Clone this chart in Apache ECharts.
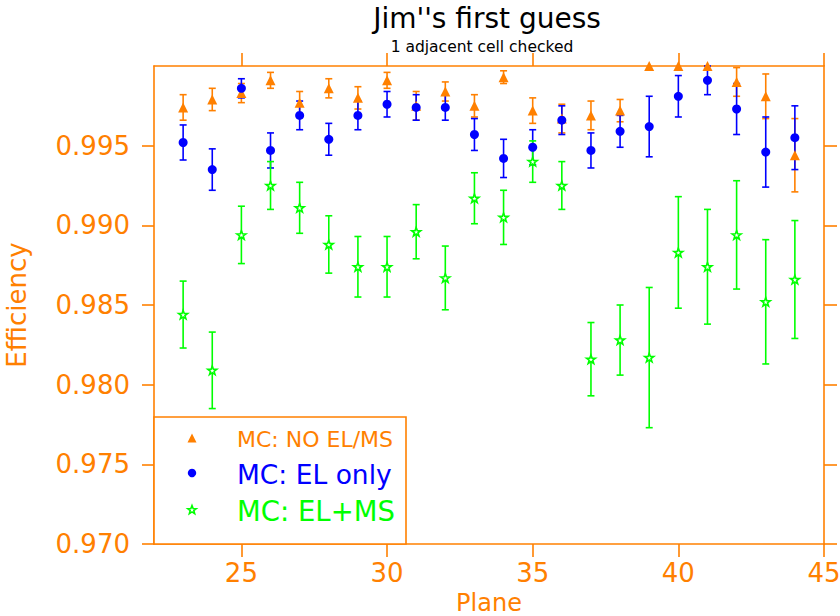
<!DOCTYPE html>
<html>
<head>
<meta charset="utf-8">
<script src="https://cdn.jsdelivr.net/npm/echarts@6/dist/echarts.min.js"></script>
<style>
html,body{margin:0;padding:0;background:#fff;}
#chart{width:840px;height:616px;}
</style>
</head>
<body>
<div id="chart"></div>
<script>
// ---- data ----
var planes = [23,24,25,26,27,28,29,30,31,32,33,34,35,36,37,38,39,40,41,42,43,44];
var noElMs    = [0.9974,0.9979,0.9983,0.9991,0.9977,0.9986,0.9980,0.9991,0.9975,0.9984,0.9975,0.9993,0.9972,0.9967,0.9969,0.9972,1.0000,1.0000,1.0000,0.9990,0.9981,0.9944];
var noElMsErr = [0.0008,0.0007,0.0006,0.0005,0.0007,0.0006,0.0007,0.0005,0.0009,0.0006,0.0007,0.0004,0.0008,0.0009,0.0009,0.0007,0,0,0,0.0009,0.0014,0.0023];
var elOnly    = [0.9952,0.9935,0.9986,0.9947,0.9969,0.9954,0.9969,0.9976,0.9974,0.9974,0.9957,0.9942,0.9949,0.9966,0.9947,0.9959,0.9962,0.9981,0.9991,0.9973,0.9946,0.9955];
var elOnlyErr = [0.0011,0.0013,0.0006,0.0011,0.0009,0.0010,0.0009,0.0008,0.0008,0.0008,0.0010,0.0012,0.0011,0.0009,0.0011,0.0010,0.0019,0.0013,0.0009,0.0016,0.0022,0.0020];
var elMs      = [0.9844,0.9809,0.9894,0.9925,0.9911,0.9888,0.9874,0.9874,0.9896,0.9867,0.9917,0.9905,0.9940,0.9925,0.9816,0.9828,0.9817,0.9883,0.9874,0.9894,0.9852,0.9866];
var elMsErr   = [0.0021,0.0024,0.0018,0.0015,0.0016,0.0018,0.0019,0.0019,0.0017,0.0020,0.0016,0.0017,0.0013,0.0015,0.0023,0.0022,0.0044,0.0035,0.0036,0.0034,0.0039,0.0037];
var xTicks = [25,30,35,40,45];
var yTicks = [0.970,0.975,0.980,0.985,0.990,0.995];
var seriesNames = ['MC: NO EL/MS','MC: EL only','MC: EL+MS'];
var titleText = "Jim''s first guess";
var subtitleText = '1 adjacent cell checked';
var xName = 'Plane';
var yName = 'Efficiency';

// ---- style ----
var ORANGE = '#ff8000', BLUE = '#0000ff', GREEN = '#00ff00';
var FONT = 'DejaVu Sans';
var STAR = 'path://M0,-10L2.35,-3.24L9.51,-3.09L3.8,1.24L5.88,8.09L0,4L-5.88,8.09L-3.8,1.24L-9.51,-3.09L-2.35,-3.24Z';

function pts(vals){ return planes.map(function(p,i){ return [p, vals[i]]; }); }
function bars(vals, errs){ return planes.map(function(p,i){ return [p, vals[i]-errs[i], vals[i]+errs[i]]; }); }
function errSeries(vals, errs, color){
  return {
    type:'custom', clip:false, silent:true,
    data: bars(vals, errs),
    renderItem: function(params, api){
      var x = api.value(0), lo = api.value(1), hi = api.value(2);
      if (hi - lo <= 0) return null;
      var a = api.coord([x, hi]), b = api.coord([x, lo]);
      var w = 3.5, st = {stroke: color, lineWidth: 1.6};
      return {type:'group', children:[
        {type:'line', shape:{x1:a[0],y1:a[1],x2:b[0],y2:b[1]}, style:st},
        {type:'line', shape:{x1:a[0]-w,y1:a[1],x2:a[0]+w,y2:a[1]}, style:st},
        {type:'line', shape:{x1:b[0]-w,y1:b[1],x2:b[0]+w,y2:b[1]}, style:st}
      ]};
    }
  };
}

function axisCommon(){
  return {
    axisLine:{show:true, onZero:false, lineStyle:{color:ORANGE, width:1.6}},
    splitLine:{show:false}
  };
}

// legend star polygon (icon only)
function starPoly(cx, cy, r){
  var p = [];
  for (var k=0;k<10;k++){
    var ang = -Math.PI/2 + k*Math.PI/5;
    var rr = (k%2===0) ? r : r*0.42;
    p.push([cx + rr*Math.cos(ang), cy + rr*Math.sin(ang)]);
  }
  return p;
}

var chart = echarts.init(document.getElementById('chart'), null, {renderer:'svg'});
var option = {
  animation:false,
  backgroundColor:'#fff',
  grid:{left:154, right:16, top:66, bottom:72, containLabel:false, outerBoundsMode:'none'},
  xAxis:[
    Object.assign(axisCommon(), {
      type:'value', min:22, max:45, position:'bottom',
      axisTick:{show:true, length:13, customValues:xTicks, lineStyle:{color:ORANGE, width:1.6}},
      axisLabel:{customValues:xTicks, color:ORANGE, fontSize:26, fontFamily:FONT, margin:16},
      name:xName, nameLocation:'middle', nameGap:40,
      nameTextStyle:{color:ORANGE, fontSize:24, lineHeight:24, fontFamily:FONT}
    }),
    Object.assign(axisCommon(), {
      type:'value', min:22, max:45, position:'top',
      axisTick:{show:true, length:13, customValues:xTicks, lineStyle:{color:ORANGE, width:1.6}},
      axisLabel:{show:false}
    })
  ],
  yAxis:[
    Object.assign(axisCommon(), {
      type:'value', min:0.970, max:1.000, position:'left',
      axisTick:{show:true, length:12, customValues:yTicks, lineStyle:{color:ORANGE, width:1.6}},
      axisLabel:{customValues:yTicks, color:ORANGE, fontSize:26, fontFamily:FONT, margin:24,
        formatter:function(v){ return v.toFixed(3); }},
      name:yName, nameLocation:'middle', nameGap:124, nameRotate:90,
      nameTextStyle:{color:ORANGE, fontSize:26, fontFamily:FONT}
    }),
    Object.assign(axisCommon(), {
      type:'value', min:0.970, max:1.000, position:'right',
      axisTick:{show:true, length:13, customValues:yTicks, lineStyle:{color:ORANGE, width:1.6}},
      axisLabel:{show:false}
    })
  ],
  series:[
    errSeries(noElMs, noElMsErr, ORANGE),
    {type:'scatter', name:seriesNames[0], data:pts(noElMs), clip:false, symbol:'triangle', symbolSize:10,
      itemStyle:{color:ORANGE, opacity:1}},
    errSeries(elOnly, elOnlyErr, BLUE),
    {type:'scatter', name:seriesNames[1], data:pts(elOnly), clip:false, symbol:'circle', symbolSize:9,
      itemStyle:{color:BLUE, opacity:1}},
    errSeries(elMs, elMsErr, GREEN),
    {type:'scatter', name:seriesNames[2], data:pts(elMs), clip:false, symbol:STAR, symbolSize:9, symbolKeepAspect:true,
      itemStyle:{color:'#ffffff', borderColor:GREEN, borderWidth:1.6, opacity:1}}
  ],
  graphic:[
    {type:'text', x:487, y:18, style:{text:titleText, fill:'#000', font:'28px "DejaVu Sans"', textAlign:'center', textVerticalAlign:'middle'}},
    {type:'text', x:482, y:47, style:{text:subtitleText, fill:'#000', font:'15.5px "DejaVu Sans"', textAlign:'center', textVerticalAlign:'middle'}},
    {type:'rect', z:10, shape:{x:154, y:417, width:252, height:127}, style:{fill:'#fff', stroke:ORANGE, lineWidth:1.6}},
    {type:'polygon', z:11, shape:{points:[[192,433.5],[196.5,442.5],[187.5,442.5]]}, style:{fill:ORANGE}},
    {type:'circle', z:11, shape:{cx:192, cy:473, r:4.2}, style:{fill:BLUE}},
    {type:'polygon', z:11, shape:{points:starPoly(192,510,4.5)}, style:{fill:'#fff', stroke:GREEN, lineWidth:1.6}},
    {type:'text', z:11, x:237, y:439, style:{text:seriesNames[0], fill:ORANGE, font:'22px "DejaVu Sans"', textVerticalAlign:'middle'}},
    {type:'text', z:11, x:237, y:474, style:{text:seriesNames[1], fill:BLUE, font:'26.5px "DejaVu Sans"', textVerticalAlign:'middle'}},
    {type:'text', z:11, x:237, y:511, style:{text:seriesNames[2], fill:GREEN, font:'27.5px "DejaVu Sans"', textVerticalAlign:'middle'}}
  ]
};
chart.setOption(option);
</script>
</body>
</html>
